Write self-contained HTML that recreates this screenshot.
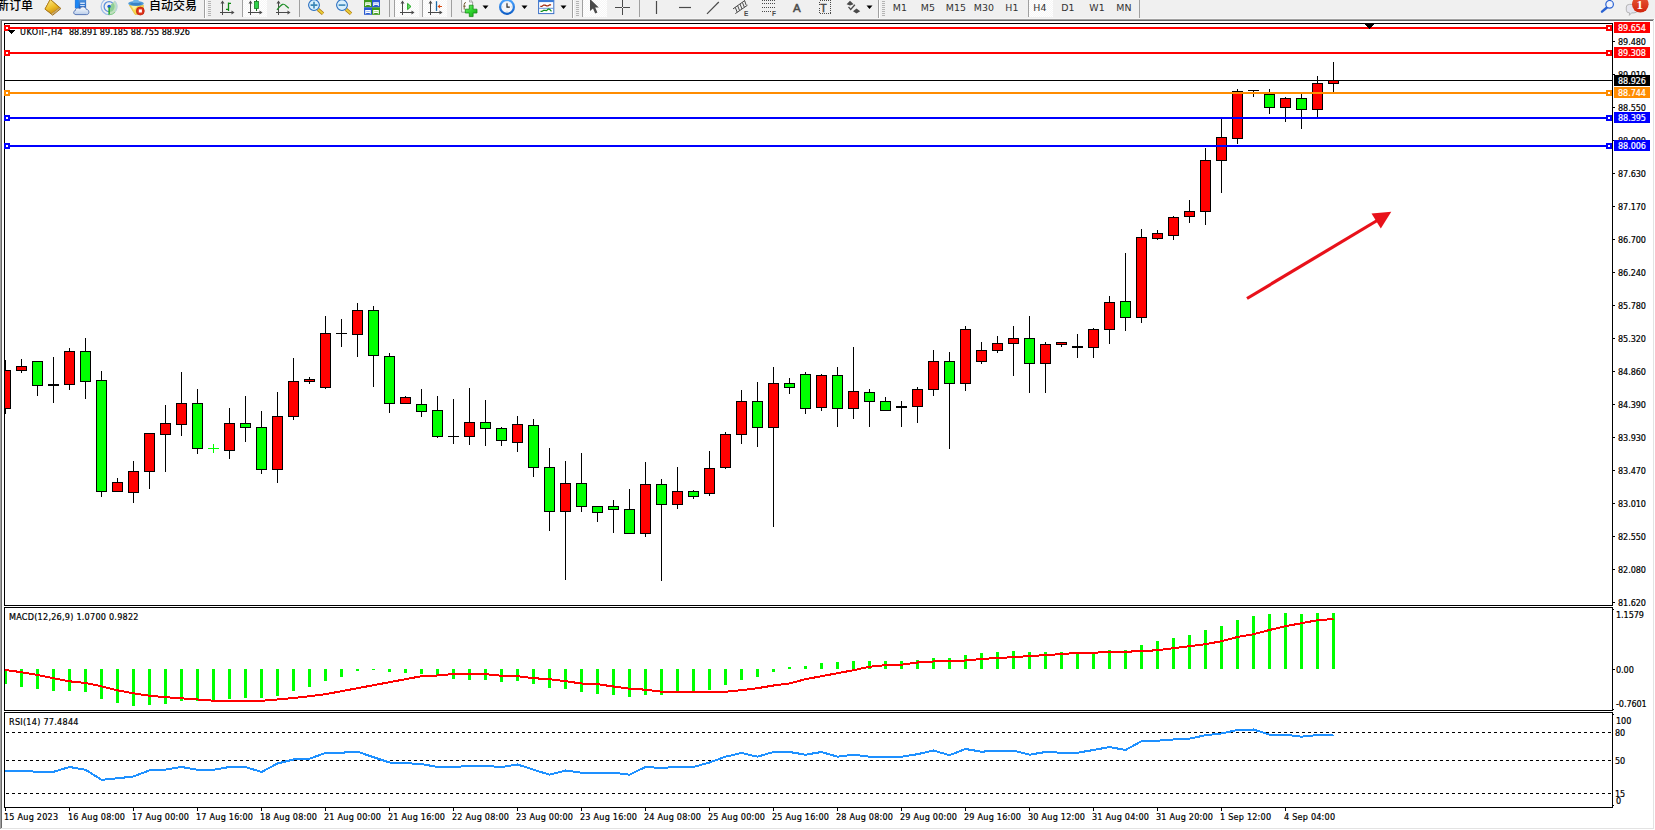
<!DOCTYPE html>
<html lang="zh"><head><meta charset="utf-8"><title>UKOil-,H4</title>
<style>
html,body{margin:0;padding:0;background:#fff}
body{width:1655px;height:830px;position:relative;overflow:hidden;font-family:"Liberation Sans","Noto Sans CJK SC",sans-serif;color:#000}
#tb{position:absolute;left:0;top:0;width:1655px;height:19px;background:#f0f0f0;overflow:hidden}
#tb svg{position:absolute;left:0;top:0}
.cn{position:absolute;top:-2px;font-weight:500;font-size:12px;line-height:16px;white-space:nowrap;color:#000}
.tf{position:absolute;top:1px;width:28px;text-align:center;font-family:"DejaVu Sans Condensed","DejaVu Sans","Liberation Sans",sans-serif;font-stretch:condensed;font-size:9.5px;letter-spacing:0.1px;transform:scaleX(1.1);line-height:13px;color:#333;white-space:nowrap}
svg.l{position:absolute;left:0;top:0}
.t,.pl{font-family:"DejaVu Sans Condensed","DejaVu Sans","Liberation Sans",sans-serif;font-stretch:condensed}
.t{position:absolute;-webkit-text-stroke:0.2px #000;font-size:9px;line-height:11px;white-space:nowrap;letter-spacing:-0.08px}
.t.d{letter-spacing:0.22px}
.t.h{letter-spacing:0.16px}
.pl{position:absolute;-webkit-text-stroke:0.2px #fff;left:1614px;width:36px;height:11px;overflow:hidden;color:#fff;font-size:9px;line-height:13px;letter-spacing:-0.08px;text-indent:4px;white-space:nowrap}
</style></head><body>
<div id="tb">
<svg width="1655" height="19" viewBox="0 0 1655 19">
<defs>
<linearGradient id="gy" x1="0.2" y1="0" x2="0.7" y2="1"><stop offset="0" stop-color="#fbe88a"/><stop offset="0.55" stop-color="#eebf2a"/><stop offset="1" stop-color="#c98a12"/></linearGradient>
<linearGradient id="gb" x1="0" y1="0" x2="0" y2="1"><stop offset="0" stop-color="#5aa0e6"/><stop offset="1" stop-color="#1c5fbf"/></linearGradient>
<linearGradient id="gc" x1="0" y1="0" x2="0" y2="1"><stop offset="0" stop-color="#ffffff"/><stop offset="1" stop-color="#b9cdea"/></linearGradient>
<radialGradient id="gl" cx="0.4" cy="0.35" r="0.7"><stop offset="0" stop-color="#e8f4ff"/><stop offset="1" stop-color="#9cc8f0"/></radialGradient>
<pattern id="dp" width="2" height="2" patternUnits="userSpaceOnUse"><rect width="2" height="2" fill="#f6f6f6"/><rect width="1" height="1" fill="#fff"/><rect x="1" y="1" width="1" height="1" fill="#fff"/></pattern>
<linearGradient id="gr" x1="0" y1="0" x2="0" y2="1"><stop offset="0" stop-color="#ea5a38"/><stop offset="1" stop-color="#d0240c"/></linearGradient>
<linearGradient id="gp" x1="0" y1="0" x2="1" y2="1"><stop offset="0" stop-color="#7df07d"/><stop offset="0.5" stop-color="#2fd42f"/><stop offset="1" stop-color="#1aa81a"/></linearGradient>
<linearGradient id="gk" x1="0" y1="0" x2="0" y2="1"><stop offset="0" stop-color="#4aa4ff"/><stop offset="1" stop-color="#0f5fc8"/></linearGradient>
</defs>
<!-- pressed button backgrounds -->
<rect x="243" y="0" width="24" height="17" fill="url(#dp)"/>
<rect x="395" y="0" width="24" height="17" fill="url(#dp)"/>
<rect x="423" y="0" width="24" height="17" fill="url(#dp)"/>
<rect x="583" y="0" width="24" height="17" fill="url(#dp)"/>
<rect x="1029" y="0" width="24" height="17" fill="url(#dp)"/>
<!-- separators -->
<g fill="#a0a0a0" shape-rendering="crispEdges">
<rect x="204" y="0" width="1" height="19"/>
<rect x="242" y="0" width="1" height="17"/>
<rect x="299" y="0" width="1" height="17"/>
<rect x="389" y="0" width="1" height="17"/>
<rect x="394" y="0" width="1" height="17"/>
<rect x="422" y="0" width="1" height="17"/>
<rect x="451" y="0" width="1" height="17"/>
<rect x="572" y="0" width="1" height="19"/>
<rect x="582" y="0" width="1" height="17"/>
<rect x="639" y="0" width="1" height="17"/>
<rect x="878" y="0" width="1" height="19"/>
<rect x="1028" y="0" width="1" height="17"/>
<rect x="1139" y="0" width="1" height="19"/>
</g>
<g fill="#fff" shape-rendering="crispEdges">
<rect x="205" y="0" width="1" height="19"/>
<rect x="573" y="0" width="1" height="19"/>
<rect x="879" y="0" width="1" height="19"/>
</g>
<!-- grippers -->
<g fill="#b4b4b4" shape-rendering="crispEdges">
<path d="M208 1h3v1h-3zM208 3h3v1h-3zM208 5h3v1h-3zM208 7h3v1h-3zM208 9h3v1h-3zM208 11h3v1h-3zM208 13h3v1h-3zM208 15h3v1h-3z"/>
<path d="M576 1h3v1h-3zM576 3h3v1h-3zM576 5h3v1h-3zM576 7h3v1h-3zM576 9h3v1h-3zM576 11h3v1h-3zM576 13h3v1h-3zM576 15h3v1h-3z"/>
<path d="M882 1h3v1h-3zM882 3h3v1h-3zM882 5h3v1h-3zM882 7h3v1h-3zM882 9h3v1h-3zM882 11h3v1h-3zM882 13h3v1h-3zM882 15h3v1h-3z"/>
</g>
<!-- yellow tag/book icon -->
<g>
<path d="M50.3 -0.6 L60.9 8.5 L52.7 15.2 L45 9.1 Z" fill="#e9dcc0" stroke="#9a6508" stroke-width="0.9" stroke-linejoin="round"/>
<path d="M50.3 -0.6 L59.4 7.6 L51.6 13.6 L45 9.1 Z" fill="url(#gy)" stroke="#a8720c" stroke-width="0.7" stroke-linejoin="round"/>
<path d="M52.2 14.4 L60.1 8.1" stroke="#9a6508" stroke-width="0.5"/>
</g>
<!-- server + cloud icon -->
<g>
<rect x="75.2" y="-2" width="10.6" height="10" fill="url(#gb)" stroke="#1560c8" stroke-width="0.6"/>
<rect x="75.5" y="-2" width="3.2" height="10" fill="#1a86f5"/>
<rect x="80.2" y="2.6" width="4.6" height="1.3" fill="#e8f2ff"/><rect x="80.2" y="5" width="4.6" height="1.1" fill="#cfe2fb"/>
<path d="M76 14.6 C73.2 14.6 72.8 11 75.4 10.5 C75.2 8.2 78.4 7.3 79.8 8.9 C80.8 6 85.6 6.1 86.1 9.3 C89.2 9 90.2 14.6 86.6 14.6 Z" fill="url(#gc)" stroke="#4c6db0" stroke-width="0.9"/>
</g>
<!-- signal icon -->
<g fill="none">
<path d="M109.1 6.6 L109.1 14.9 A8.3 8.3 0 0 0 114.8 0.6 Z" fill="#bfe0bf"/>
<path d="M109.1 6.6 L109.1 12 A5.4 5.4 0 0 0 113 2.8 Z" fill="#8fcf95"/>
<path d="M109.1 14.6 A8 8 0 0 1 109.1 -1.4" stroke="#9dbdea" stroke-width="1.2"/>
<path d="M109.1 11.6 A5 5 0 0 1 109.1 1.6 A5 5 0 0 1 112.6 3" stroke="#5f90dd" stroke-width="1.3"/>
<path d="M114.6 0.9 A8 8 0 0 1 115.5 11.5" stroke="#b7cfe8" stroke-width="1"/>
<circle cx="109.1" cy="6.4" r="1.7" fill="#1f5fd0"/>
<rect x="108.4" y="7.2" width="1.5" height="7.6" fill="#27a82f"/>
<path d="M109.1 14.8 A8.2 8.2 0 0 0 115 12.2" stroke="#7cc883" stroke-width="0.9"/>
</g>
<!-- expert advisor icon -->
<g>
<path d="M129.3 5.2 L143.4 5.2 L143.4 8 L137.6 14.4 L135 14.4 Z" fill="#f6d94e" stroke="#d8a81e" stroke-width="0.5"/>
<path d="M131 5.6 L138 5.6 L134 10 Z" fill="#fbeea0"/>
<ellipse cx="136" cy="3.4" rx="7.8" ry="2.5" fill="#4f9ad8"/>
<path d="M132.6 3.6 Q133.6 -0.5 134 -3 L138 -3 Q138.2 -0.5 139.6 3.6 Z" fill="#6db3e8"/>
<ellipse cx="136" cy="4.1" rx="5.6" ry="1.3" fill="#3a82c4"/>
<circle cx="140.3" cy="11" r="4" fill="#e0341c" stroke="#b81f0c" stroke-width="0.7"/>
<rect x="138.8" y="9.4" width="3.1" height="3.1" fill="#fff"/>
</g>
<!-- bar chart icon -->
<g stroke="#4a4a4a" stroke-width="1" fill="none" shape-rendering="crispEdges">
<path d="M222.5 2 V15 M220 12.5 H233"/>
<path d="M250.5 2 V15 M248 12.5 H261"/>
<path d="M278.5 2 V15 M276 12.5 H289"/>
<path d="M402.5 2 V15 M400 12.5 H413"/>
<path d="M430.5 2 V15 M428 12.5 H441"/>
</g>
<g fill="#4a4a4a">
<path d="M222.5 0.5 l-2 3 h4z M234.5 12.5 l-3 -2 v4z"/>
<path d="M250.5 0.5 l-2 3 h4z M262.5 12.5 l-3 -2 v4z"/>
<path d="M278.5 0.5 l-2 3 h4z M290.5 12.5 l-3 -2 v4z"/>
<path d="M402.5 0.5 l-2 3 h4z M414.5 12.5 l-3 -2 v4z"/>
<path d="M430.5 0.5 l-2 3 h4z M442.5 12.5 l-3 -2 v4z"/>
</g>
<path d="M228.5 2.4 V10.9 M228.5 3.3 h2.5 M228.5 9.4 h-2.5" stroke="#0f8a14" stroke-width="1.3" fill="none"/>
<!-- candle icon -->
<path d="M256.5 0 V11" stroke="#1a6a1a" stroke-width="1"/>
<rect x="254.5" y="1.5" width="4" height="7" fill="#2fd24a" stroke="#1a7a24" stroke-width="0.8"/>
<!-- line chart icon -->
<path d="M277 9.8 Q280.5 5.5 282.5 4.4 Q284.5 3.8 286 5.8 L288.8 8.3" stroke="#1f8f2a" stroke-width="1.2" fill="none"/>
<!-- zoom in -->
<g>
<path d="M318 9.4 L323 13.7" stroke="#b07810" stroke-width="3.4" stroke-linecap="butt"/>
<path d="M318 9.4 L322.8 13.5" stroke="#ecd23a" stroke-width="1.9" stroke-linecap="butt"/>
<circle cx="314" cy="5.1" r="5.4" fill="#d9f0fd" stroke="#2a6fc0" stroke-width="1.1"/>
<path d="M310.6 5.1 H317.4 M314 1.7 V8.5" stroke="#3a86b6" stroke-width="1.6"/>
</g>
<!-- zoom out -->
<g>
<path d="M346 9.4 L351 13.7" stroke="#b07810" stroke-width="3.4" stroke-linecap="butt"/>
<path d="M346 9.4 L350.8 13.5" stroke="#ecd23a" stroke-width="1.9" stroke-linecap="butt"/>
<circle cx="342" cy="5.1" r="5.4" fill="#d9f0fd" stroke="#2a6fc0" stroke-width="1.1"/>
<path d="M338.6 5.1 H345.4" stroke="#3a86b6" stroke-width="1.6"/>
</g>
<!-- tile windows icon -->
<g>
<rect x="364" y="-1" width="8" height="8.3" fill="#3d9a1c"/><rect x="372" y="-1" width="8" height="8.3" fill="#2a5ad2"/>
<rect x="364" y="7.3" width="8" height="7.5" fill="#2a5ad2"/><rect x="372" y="7.3" width="8" height="7.5" fill="#3d9a1c"/>
<path d="M365.2 2.2 h5.6 v3.8 h-1 v-0.9 h-3.6 v0.9 h-1 z" fill="#fff"/><path d="M373.2 2.2 h5.6 v3.8 h-1 v-0.9 h-3.6 v0.9 h-1 z" fill="#fff"/>
<path d="M365.2 10 h5.6 v3.8 h-1 v-0.9 h-3.6 v0.9 h-1 z" fill="#fff"/><path d="M373.2 10 h5.6 v3.8 h-1 v-0.9 h-3.6 v0.9 h-1 z" fill="#fff"/>
<rect x="366.2" y="3.3" width="3.6" height="0.9" fill="#a8dc90"/><rect x="374.2" y="3.3" width="3.6" height="0.9" fill="#9db8f0"/>
<rect x="366.2" y="11.1" width="3.6" height="0.9" fill="#9db8f0"/><rect x="374.2" y="11.1" width="3.6" height="0.9" fill="#a8dc90"/>
</g>
<!-- autoscroll: green triangle -->
<path d="M407.6 3.4 L411 6.5 L407.6 9.6 Z" fill="#6ade6a" stroke="#12a012" stroke-width="0.9" stroke-linejoin="round"/>
<!-- chart shift: blue line + red arrow -->
<path d="M436.5 1.2 V10.9" stroke="#1a6aa8" stroke-width="1.3"/>
<path d="M437.5 6.4 L440.2 4.2 L439.8 5.9 H442 V6.9 H439.8 L440.2 8.6 Z" fill="#d84a10"/>
<!-- indicators icon -->
<g>
<path d="M461.6 -1 H469.5 L472.6 2 V12.2 H461.6 Z" fill="#fbfbfb" stroke="#8c8c8c" stroke-width="0.8"/>
<path d="M469.5 -1 V2 H472.6" fill="none" stroke="#8c8c8c" stroke-width="0.7"/>
<path d="M466 2.5 q-1.8 0 -1.8 2 v5 M463.3 6.2 h2.4" stroke="#6a5428" stroke-width="0.9" fill="none"/>
<path d="M469.3 5.2 h3.8 v4 h3.9 v3.8 h-3.9 v3.6 h-3.8 v-3.6 h-4 v-3.8 h4 z" fill="url(#gp)" stroke="#148a14" stroke-width="0.8" stroke-linejoin="round"/>
</g>
<g fill="#000">
<path d="M482.5 5.5 h6 l-3 3.5z"/>
<path d="M521.5 5.5 h6 l-3 3.5z"/>
<path d="M560.5 5.5 h6 l-3 3.5z"/>
<path d="M866.5 5.5 h6 l-3 3.5z"/>
</g>
<!-- clock -->
<g>
<circle cx="507" cy="6.9" r="6.9" fill="#f3f5f9" stroke="url(#gk)" stroke-width="2.2"/>
<path d="M507 3.3 V7.1 H509.8" stroke="#2a2a2a" stroke-width="1.2" fill="none"/>
<path d="M507 1.6 v0.8 M507 11.4 v0.8 M501.7 6.9 h0.8 M511.5 6.9 h0.8" stroke="#9aa" stroke-width="0.7"/>
</g>
<!-- template icon -->
<g fill="none">
<rect x="538.6" y="-1" width="15.2" height="14.6" fill="#fff" stroke="#3a70c8" stroke-width="1"/>
<rect x="538.6" y="-1" width="15.2" height="3.1" fill="#3a7ad8"/>
<path d="M540.3 6.4 h1.6 l1.6 -1.3 h1.6 l1.5 0.8 h1.4 l1.5 -1 h1.6" stroke="#a02810" stroke-width="1.2"/>
<path d="M539 8.3 H553.4" stroke="#5a8ad8" stroke-width="0.9"/>
<path d="M540.5 11.4 h1.4 l1.6 -1 h1.4 l1.6 0.3 l1.8 -1.7 l1.4 0.4 l1.8 2" stroke="#109020" stroke-width="1.2"/>
</g>
<!-- cursor arrow -->
<path d="M590 -1 L590 11 L593 8.4 L595.2 13.4 L597.4 12.4 L595.2 7.6 L598.8 7.4 Z" fill="#4a4a4a"/>
<!-- crosshair -->
<path d="M622.5 0 V15 M615 7.5 H630" stroke="#4a4a4a" stroke-width="1" shape-rendering="crispEdges"/>
<rect x="622" y="7" width="1" height="1" fill="#f0f0f0"/>
<!-- vertical line, horizontal line, trendline -->
<path d="M656.5 1 V14" stroke="#4a4a4a" stroke-width="1.2"/>
<path d="M679 7.5 H691" stroke="#4a4a4a" stroke-width="1.2"/>
<path d="M707 13.8 L718.8 2" stroke="#4a4a4a" stroke-width="1.2"/>
<!-- channel icon -->
<g stroke="#4a4a4a" stroke-width="1" fill="none">
<path d="M733 8.9 L745 0.4 M735.3 13.6 L747.5 5.2"/>
<path d="M735.2 7.2 l2 5 M737.6 5.6 l2 5 M740 4 l2 5 M742.4 2.4 l2 5 M744.6 0.6 l1.6 4.6" />
</g>
<!-- fibo icon -->
<g stroke="#4a4a4a" stroke-width="1" stroke-dasharray="1 1" shape-rendering="crispEdges">
<path d="M762 0.5 H775 M762 3.5 H775 M762 7.5 H775 M762 11.5 H771"/>
</g>
<!-- text label icon dotted box -->
<rect x="819.5" y="0.5" width="11" height="13" fill="none" stroke="#4a4a4a" stroke-width="1" stroke-dasharray="1 1" shape-rendering="crispEdges"/>
<!-- arrows icon -->
<g fill="#4a4a4a">
<path d="M850 0.8 L853.6 4.2 L850 5.6 L846.6 4.2 Z"/>
<path d="M856.5 8.4 L860.2 11.2 L856.5 13.6 L853 11.2 Z"/>
<path d="M848.5 6.8 l2.2 2.6 l4.2 -4.6" stroke="#4a4a4a" stroke-width="1.3" fill="none"/>
</g>
<!-- search icon -->
<g>
<path d="M1602 11.7 L1606.9 7.5" stroke="#2a62d2" stroke-width="2.4" stroke-linecap="round"/>
<circle cx="1609.6" cy="4.3" r="3.8" fill="#f1f3fc" stroke="#2a62d2" stroke-width="1.2"/>
</g>
<!-- chat bubble + badge -->
<g>
<path d="M1626.3 7 Q1626.3 4.4 1629.5 4.4 H1634 Q1637.2 4.4 1637.2 7 V10.2 Q1637.2 12.9 1634 12.9 H1631.5 L1629.3 15.4 L1629.6 12.9 Q1626.3 12.9 1626.3 10.2 Z" fill="#e6e6ee" stroke="#a8a8a8" stroke-width="0.8"/>
<circle cx="1640.3" cy="4.3" r="8.3" fill="url(#gr)"/>
</g>
<g font-family="'Liberation Sans',sans-serif" font-weight="bold" fill="#4a4a4a">
<text x="744" y="15.5" font-size="6.5">E</text>
<text x="772" y="15.5" font-size="6.5">F</text>
<text x="793" y="12" font-size="11.5" font-weight="normal" stroke="#4a4a4a" stroke-width="0.5">A</text>
<text x="820.3" y="11.5" font-size="10.5" font-weight="normal" stroke="#4a4a4a" stroke-width="0.5">T</text>
<text x="1636.4" y="9" font-size="13" fill="#fff" font-family="'Liberation Serif',serif" font-weight="bold">1</text>
</g>
</svg>
<div class="cn" style="left:-3px">新订单</div>
<div class="cn" style="left:149px">自动交易</div>
<div class="tf" style="left:886px">M1</div>
<div class="tf" style="left:914px">M5</div>
<div class="tf" style="left:942px">M15</div>
<div class="tf" style="left:970px">M30</div>
<div class="tf" style="left:998px">H1</div>
<div class="tf" style="left:1026px">H4</div>
<div class="tf" style="left:1054px">D1</div>
<div class="tf" style="left:1083px">W1</div>
<div class="tf" style="left:1110px">MN</div>

</div>
<svg class="l" width="1655" height="830" viewBox="0 0 1655 830" shape-rendering="crispEdges">
<rect x="0" y="18" width="1655" height="1" fill="#f6f6f6"/><rect x="0" y="19" width="1654" height="1" fill="#a0a0a0"/><rect x="0" y="20" width="1653" height="1" fill="#696969"/><rect x="0" y="19" width="1" height="810" fill="#a0a0a0"/><rect x="1" y="20" width="1" height="808" fill="#696969"/><rect x="1653" y="20" width="1" height="809" fill="#e3e3e3"/><rect x="1" y="828" width="1653" height="1" fill="#e3e3e3"/><rect x="4" y="23" width="1609" height="1" fill="#000"/><rect x="4" y="605" width="1609" height="1" fill="#000"/><rect x="4" y="23" width="1" height="583" fill="#000"/><rect x="1612" y="23" width="1" height="583" fill="#000"/><rect x="4" y="607" width="1609" height="1" fill="#000"/><rect x="4" y="710" width="1609" height="1" fill="#000"/><rect x="4" y="607" width="1" height="104" fill="#000"/><rect x="1612" y="607" width="1" height="104" fill="#000"/><rect x="4" y="712" width="1609" height="1" fill="#000"/><rect x="4" y="807" width="1609" height="1" fill="#000"/><rect x="4" y="712" width="1" height="96" fill="#000"/><rect x="1612" y="712" width="1" height="96" fill="#000"/><rect x="1613" y="41" width="2" height="1" fill="#000"/><rect x="1613" y="74" width="2" height="1" fill="#000"/><rect x="1613" y="107" width="2" height="1" fill="#000"/><rect x="1613" y="140" width="2" height="1" fill="#000"/><rect x="1613" y="173" width="2" height="1" fill="#000"/><rect x="1613" y="206" width="2" height="1" fill="#000"/><rect x="1613" y="239" width="2" height="1" fill="#000"/><rect x="1613" y="272" width="2" height="1" fill="#000"/><rect x="1613" y="305" width="2" height="1" fill="#000"/><rect x="1613" y="338" width="2" height="1" fill="#000"/><rect x="1613" y="371" width="2" height="1" fill="#000"/><rect x="1613" y="404" width="2" height="1" fill="#000"/><rect x="1613" y="437" width="2" height="1" fill="#000"/><rect x="1613" y="470" width="2" height="1" fill="#000"/><rect x="1613" y="503" width="2" height="1" fill="#000"/><rect x="1613" y="536" width="2" height="1" fill="#000"/><rect x="1613" y="569" width="2" height="1" fill="#000"/><rect x="1613" y="602" width="2" height="1" fill="#000"/><rect x="1613" y="609" width="1" height="1" fill="#000"/><rect x="1613" y="669" width="2" height="1" fill="#000"/><rect x="1613" y="709" width="1" height="1" fill="#000"/><rect x="1613" y="714" width="1" height="1" fill="#000"/><rect x="1613" y="805" width="1" height="1" fill="#000"/><rect x="5" y="808" width="1" height="3" fill="#000"/><rect x="69" y="808" width="1" height="3" fill="#000"/><rect x="133" y="808" width="1" height="3" fill="#000"/><rect x="197" y="808" width="1" height="3" fill="#000"/><rect x="261" y="808" width="1" height="3" fill="#000"/><rect x="325" y="808" width="1" height="3" fill="#000"/><rect x="389" y="808" width="1" height="3" fill="#000"/><rect x="453" y="808" width="1" height="3" fill="#000"/><rect x="517" y="808" width="1" height="3" fill="#000"/><rect x="581" y="808" width="1" height="3" fill="#000"/><rect x="645" y="808" width="1" height="3" fill="#000"/><rect x="709" y="808" width="1" height="3" fill="#000"/><rect x="773" y="808" width="1" height="3" fill="#000"/><rect x="837" y="808" width="1" height="3" fill="#000"/><rect x="901" y="808" width="1" height="3" fill="#000"/><rect x="965" y="808" width="1" height="3" fill="#000"/><rect x="1029" y="808" width="1" height="3" fill="#000"/><rect x="1093" y="808" width="1" height="3" fill="#000"/><rect x="1157" y="808" width="1" height="3" fill="#000"/><rect x="1221" y="808" width="1" height="3" fill="#000"/><rect x="1285" y="808" width="1" height="3" fill="#000"/><rect x="5" y="669" width="2" height="15" fill="#00FF00"/><rect x="20" y="669" width="3" height="18" fill="#00FF00"/><rect x="36" y="669" width="3" height="20" fill="#00FF00"/><rect x="52" y="669" width="3" height="22" fill="#00FF00"/><rect x="68" y="669" width="3" height="22" fill="#00FF00"/><rect x="84" y="669" width="3" height="23" fill="#00FF00"/><rect x="100" y="669" width="3" height="30" fill="#00FF00"/><rect x="116" y="669" width="3" height="34" fill="#00FF00"/><rect x="132" y="669" width="3" height="37" fill="#00FF00"/><rect x="148" y="669" width="3" height="36" fill="#00FF00"/><rect x="164" y="669" width="3" height="35" fill="#00FF00"/><rect x="180" y="669" width="3" height="32" fill="#00FF00"/><rect x="196" y="669" width="3" height="32" fill="#00FF00"/><rect x="212" y="669" width="3" height="33" fill="#00FF00"/><rect x="228" y="669" width="3" height="30" fill="#00FF00"/><rect x="244" y="669" width="3" height="29" fill="#00FF00"/><rect x="260" y="669" width="3" height="29" fill="#00FF00"/><rect x="276" y="669" width="3" height="27" fill="#00FF00"/><rect x="292" y="669" width="3" height="22" fill="#00FF00"/><rect x="308" y="669" width="3" height="18" fill="#00FF00"/><rect x="324" y="669" width="3" height="12" fill="#00FF00"/><rect x="340" y="669" width="3" height="8" fill="#00FF00"/><rect x="356" y="669" width="3" height="2" fill="#00FF00"/><rect x="372" y="669" width="3" height="1" fill="#00FF00"/><rect x="388" y="669" width="3" height="3" fill="#00FF00"/><rect x="404" y="669" width="3" height="4" fill="#00FF00"/><rect x="420" y="669" width="3" height="5" fill="#00FF00"/><rect x="436" y="669" width="3" height="7" fill="#00FF00"/><rect x="452" y="669" width="3" height="10" fill="#00FF00"/><rect x="468" y="669" width="3" height="11" fill="#00FF00"/><rect x="484" y="669" width="3" height="11" fill="#00FF00"/><rect x="500" y="669" width="3" height="13" fill="#00FF00"/><rect x="516" y="669" width="3" height="12" fill="#00FF00"/><rect x="532" y="669" width="3" height="15" fill="#00FF00"/><rect x="548" y="669" width="3" height="19" fill="#00FF00"/><rect x="564" y="669" width="3" height="20" fill="#00FF00"/><rect x="580" y="669" width="3" height="23" fill="#00FF00"/><rect x="596" y="669" width="3" height="25" fill="#00FF00"/><rect x="612" y="669" width="3" height="26" fill="#00FF00"/><rect x="628" y="669" width="3" height="28" fill="#00FF00"/><rect x="644" y="669" width="3" height="26" fill="#00FF00"/><rect x="660" y="669" width="3" height="26" fill="#00FF00"/><rect x="676" y="669" width="3" height="23" fill="#00FF00"/><rect x="692" y="669" width="3" height="23" fill="#00FF00"/><rect x="708" y="669" width="3" height="21" fill="#00FF00"/><rect x="724" y="669" width="3" height="16" fill="#00FF00"/><rect x="740" y="669" width="3" height="11" fill="#00FF00"/><rect x="756" y="669" width="3" height="8" fill="#00FF00"/><rect x="772" y="669" width="3" height="3" fill="#00FF00"/><rect x="788" y="667" width="3" height="2" fill="#00FF00"/><rect x="804" y="666" width="3" height="3" fill="#00FF00"/><rect x="820" y="663" width="3" height="6" fill="#00FF00"/><rect x="836" y="662" width="3" height="7" fill="#00FF00"/><rect x="852" y="661" width="3" height="8" fill="#00FF00"/><rect x="868" y="661" width="3" height="8" fill="#00FF00"/><rect x="884" y="661" width="3" height="8" fill="#00FF00"/><rect x="900" y="661" width="3" height="8" fill="#00FF00"/><rect x="916" y="660" width="3" height="9" fill="#00FF00"/><rect x="932" y="658" width="3" height="11" fill="#00FF00"/><rect x="948" y="658" width="3" height="11" fill="#00FF00"/><rect x="964" y="655" width="3" height="14" fill="#00FF00"/><rect x="980" y="653" width="3" height="16" fill="#00FF00"/><rect x="996" y="652" width="3" height="17" fill="#00FF00"/><rect x="1012" y="651" width="3" height="18" fill="#00FF00"/><rect x="1028" y="652" width="3" height="17" fill="#00FF00"/><rect x="1044" y="652" width="3" height="17" fill="#00FF00"/><rect x="1060" y="652" width="3" height="17" fill="#00FF00"/><rect x="1076" y="652" width="3" height="17" fill="#00FF00"/><rect x="1092" y="654" width="3" height="15" fill="#00FF00"/><rect x="1108" y="650" width="3" height="19" fill="#00FF00"/><rect x="1124" y="650" width="3" height="19" fill="#00FF00"/><rect x="1140" y="645" width="3" height="24" fill="#00FF00"/><rect x="1156" y="641" width="3" height="28" fill="#00FF00"/><rect x="1172" y="638" width="3" height="31" fill="#00FF00"/><rect x="1188" y="635" width="3" height="34" fill="#00FF00"/><rect x="1204" y="630" width="3" height="39" fill="#00FF00"/><rect x="1220" y="626" width="3" height="43" fill="#00FF00"/><rect x="1236" y="620" width="3" height="49" fill="#00FF00"/><rect x="1252" y="616" width="3" height="53" fill="#00FF00"/><rect x="1268" y="614" width="3" height="55" fill="#00FF00"/><rect x="1284" y="613" width="3" height="56" fill="#00FF00"/><rect x="1300" y="614" width="3" height="55" fill="#00FF00"/><rect x="1316" y="613" width="3" height="56" fill="#00FF00"/><rect x="1332" y="613" width="3" height="56" fill="#00FF00"/>
<clipPath id="cc"><rect x="5" y="24" width="1607" height="581"/></clipPath><g clip-path="url(#cc)"><rect x="5" y="360" width="1" height="54" fill="#000"/><rect x="0" y="370" width="11" height="39" fill="#000"/><rect x="1" y="371" width="9" height="37" fill="#FF0000"/><rect x="21" y="359" width="1" height="14" fill="#000"/><rect x="16" y="366" width="11" height="5" fill="#000"/><rect x="17" y="367" width="9" height="3" fill="#FF0000"/><rect x="37" y="361" width="1" height="35" fill="#000"/><rect x="32" y="361" width="11" height="25" fill="#000"/><rect x="33" y="362" width="9" height="23" fill="#00FF00"/><rect x="53" y="357" width="1" height="46" fill="#000"/><rect x="48" y="384" width="11" height="2" fill="#000"/><rect x="69" y="348" width="1" height="42" fill="#000"/><rect x="64" y="351" width="11" height="34" fill="#000"/><rect x="65" y="352" width="9" height="32" fill="#FF0000"/><rect x="85" y="338" width="1" height="61" fill="#000"/><rect x="80" y="351" width="11" height="31" fill="#000"/><rect x="81" y="352" width="9" height="29" fill="#00FF00"/><rect x="101" y="371" width="1" height="126" fill="#000"/><rect x="96" y="380" width="11" height="112" fill="#000"/><rect x="97" y="381" width="9" height="110" fill="#00FF00"/><rect x="117" y="478" width="1" height="14" fill="#000"/><rect x="112" y="482" width="11" height="10" fill="#000"/><rect x="113" y="483" width="9" height="8" fill="#FF0000"/><rect x="133" y="461" width="1" height="42" fill="#000"/><rect x="128" y="471" width="11" height="22" fill="#000"/><rect x="129" y="472" width="9" height="20" fill="#FF0000"/><rect x="149" y="433" width="1" height="56" fill="#000"/><rect x="144" y="433" width="11" height="39" fill="#000"/><rect x="145" y="434" width="9" height="37" fill="#FF0000"/><rect x="165" y="405" width="1" height="67" fill="#000"/><rect x="160" y="423" width="11" height="12" fill="#000"/><rect x="161" y="424" width="9" height="10" fill="#FF0000"/><rect x="181" y="372" width="1" height="64" fill="#000"/><rect x="176" y="403" width="11" height="22" fill="#000"/><rect x="177" y="404" width="9" height="20" fill="#FF0000"/><rect x="197" y="389" width="1" height="65" fill="#000"/><rect x="192" y="403" width="11" height="46" fill="#000"/><rect x="193" y="404" width="9" height="44" fill="#00FF00"/><rect x="213" y="444" width="1" height="9" fill="#00FF00"/><rect x="208" y="448" width="11" height="1" fill="#00FF00"/><rect x="229" y="408" width="1" height="51" fill="#000"/><rect x="224" y="423" width="11" height="28" fill="#000"/><rect x="225" y="424" width="9" height="26" fill="#FF0000"/><rect x="245" y="396" width="1" height="46" fill="#000"/><rect x="240" y="423" width="11" height="5" fill="#000"/><rect x="241" y="424" width="9" height="3" fill="#00FF00"/><rect x="261" y="411" width="1" height="63" fill="#000"/><rect x="256" y="427" width="11" height="43" fill="#000"/><rect x="257" y="428" width="9" height="41" fill="#00FF00"/><rect x="277" y="392" width="1" height="91" fill="#000"/><rect x="272" y="416" width="11" height="54" fill="#000"/><rect x="273" y="417" width="9" height="52" fill="#FF0000"/><rect x="293" y="358" width="1" height="62" fill="#000"/><rect x="288" y="381" width="11" height="36" fill="#000"/><rect x="289" y="382" width="9" height="34" fill="#FF0000"/><rect x="309" y="377" width="1" height="7" fill="#000"/><rect x="304" y="379" width="11" height="3" fill="#000"/><rect x="305" y="380" width="9" height="1" fill="#FF0000"/><rect x="325" y="316" width="1" height="73" fill="#000"/><rect x="320" y="333" width="11" height="55" fill="#000"/><rect x="321" y="334" width="9" height="53" fill="#FF0000"/><rect x="341" y="319" width="1" height="28" fill="#000"/><rect x="336" y="333" width="11" height="1" fill="#000"/><rect x="357" y="303" width="1" height="54" fill="#000"/><rect x="352" y="310" width="11" height="25" fill="#000"/><rect x="353" y="311" width="9" height="23" fill="#FF0000"/><rect x="373" y="306" width="1" height="81" fill="#000"/><rect x="368" y="310" width="11" height="46" fill="#000"/><rect x="369" y="311" width="9" height="44" fill="#00FF00"/><rect x="389" y="353" width="1" height="60" fill="#000"/><rect x="384" y="356" width="11" height="48" fill="#000"/><rect x="385" y="357" width="9" height="46" fill="#00FF00"/><rect x="405" y="396" width="1" height="8" fill="#000"/><rect x="400" y="397" width="11" height="7" fill="#000"/><rect x="401" y="398" width="9" height="5" fill="#FF0000"/><rect x="421" y="389" width="1" height="28" fill="#000"/><rect x="416" y="404" width="11" height="8" fill="#000"/><rect x="417" y="405" width="9" height="6" fill="#00FF00"/><rect x="437" y="396" width="1" height="42" fill="#000"/><rect x="432" y="410" width="11" height="27" fill="#000"/><rect x="433" y="411" width="9" height="25" fill="#00FF00"/><rect x="453" y="399" width="1" height="45" fill="#000"/><rect x="448" y="436" width="11" height="1" fill="#000"/><rect x="469" y="388" width="1" height="57" fill="#000"/><rect x="464" y="422" width="11" height="15" fill="#000"/><rect x="465" y="423" width="9" height="13" fill="#FF0000"/><rect x="485" y="400" width="1" height="46" fill="#000"/><rect x="480" y="422" width="11" height="7" fill="#000"/><rect x="481" y="423" width="9" height="5" fill="#00FF00"/><rect x="501" y="427" width="1" height="19" fill="#000"/><rect x="496" y="428" width="11" height="13" fill="#000"/><rect x="497" y="429" width="9" height="11" fill="#00FF00"/><rect x="517" y="416" width="1" height="36" fill="#000"/><rect x="512" y="424" width="11" height="19" fill="#000"/><rect x="513" y="425" width="9" height="17" fill="#FF0000"/><rect x="533" y="419" width="1" height="58" fill="#000"/><rect x="528" y="425" width="11" height="43" fill="#000"/><rect x="529" y="426" width="9" height="41" fill="#00FF00"/><rect x="549" y="448" width="1" height="83" fill="#000"/><rect x="544" y="467" width="11" height="45" fill="#000"/><rect x="545" y="468" width="9" height="43" fill="#00FF00"/><rect x="565" y="461" width="1" height="119" fill="#000"/><rect x="560" y="483" width="11" height="29" fill="#000"/><rect x="561" y="484" width="9" height="27" fill="#FF0000"/><rect x="581" y="453" width="1" height="59" fill="#000"/><rect x="576" y="483" width="11" height="24" fill="#000"/><rect x="577" y="484" width="9" height="22" fill="#00FF00"/><rect x="597" y="506" width="1" height="16" fill="#000"/><rect x="592" y="506" width="11" height="7" fill="#000"/><rect x="593" y="507" width="9" height="5" fill="#00FF00"/><rect x="613" y="500" width="1" height="33" fill="#000"/><rect x="608" y="506" width="11" height="4" fill="#000"/><rect x="609" y="507" width="9" height="2" fill="#00FF00"/><rect x="629" y="489" width="1" height="45" fill="#000"/><rect x="624" y="509" width="11" height="25" fill="#000"/><rect x="625" y="510" width="9" height="23" fill="#00FF00"/><rect x="645" y="462" width="1" height="75" fill="#000"/><rect x="640" y="484" width="11" height="50" fill="#000"/><rect x="641" y="485" width="9" height="48" fill="#FF0000"/><rect x="661" y="479" width="1" height="102" fill="#000"/><rect x="656" y="484" width="11" height="21" fill="#000"/><rect x="657" y="485" width="9" height="19" fill="#00FF00"/><rect x="677" y="467" width="1" height="42" fill="#000"/><rect x="672" y="491" width="11" height="14" fill="#000"/><rect x="673" y="492" width="9" height="12" fill="#FF0000"/><rect x="693" y="490" width="1" height="9" fill="#000"/><rect x="688" y="491" width="11" height="6" fill="#000"/><rect x="689" y="492" width="9" height="4" fill="#00FF00"/><rect x="709" y="451" width="1" height="45" fill="#000"/><rect x="704" y="468" width="11" height="26" fill="#000"/><rect x="705" y="469" width="9" height="24" fill="#FF0000"/><rect x="725" y="432" width="1" height="37" fill="#000"/><rect x="720" y="434" width="11" height="34" fill="#000"/><rect x="721" y="435" width="9" height="32" fill="#FF0000"/><rect x="741" y="390" width="1" height="54" fill="#000"/><rect x="736" y="401" width="11" height="34" fill="#000"/><rect x="737" y="402" width="9" height="32" fill="#FF0000"/><rect x="757" y="382" width="1" height="65" fill="#000"/><rect x="752" y="401" width="11" height="27" fill="#000"/><rect x="753" y="402" width="9" height="25" fill="#00FF00"/><rect x="773" y="367" width="1" height="160" fill="#000"/><rect x="768" y="383" width="11" height="45" fill="#000"/><rect x="769" y="384" width="9" height="43" fill="#FF0000"/><rect x="789" y="378" width="1" height="16" fill="#000"/><rect x="784" y="383" width="11" height="5" fill="#000"/><rect x="785" y="384" width="9" height="3" fill="#00FF00"/><rect x="805" y="372" width="1" height="42" fill="#000"/><rect x="800" y="374" width="11" height="35" fill="#000"/><rect x="801" y="375" width="9" height="33" fill="#00FF00"/><rect x="821" y="374" width="1" height="37" fill="#000"/><rect x="816" y="375" width="11" height="33" fill="#000"/><rect x="817" y="376" width="9" height="31" fill="#FF0000"/><rect x="837" y="367" width="1" height="60" fill="#000"/><rect x="832" y="375" width="11" height="34" fill="#000"/><rect x="833" y="376" width="9" height="32" fill="#00FF00"/><rect x="853" y="347" width="1" height="72" fill="#000"/><rect x="848" y="391" width="11" height="18" fill="#000"/><rect x="849" y="392" width="9" height="16" fill="#FF0000"/><rect x="869" y="389" width="1" height="38" fill="#000"/><rect x="864" y="392" width="11" height="10" fill="#000"/><rect x="865" y="393" width="9" height="8" fill="#00FF00"/><rect x="885" y="397" width="1" height="14" fill="#000"/><rect x="880" y="401" width="11" height="10" fill="#000"/><rect x="881" y="402" width="9" height="8" fill="#00FF00"/><rect x="901" y="401" width="1" height="26" fill="#000"/><rect x="896" y="406" width="11" height="2" fill="#000"/><rect x="917" y="387" width="1" height="36" fill="#000"/><rect x="912" y="389" width="11" height="18" fill="#000"/><rect x="913" y="390" width="9" height="16" fill="#FF0000"/><rect x="933" y="350" width="1" height="46" fill="#000"/><rect x="928" y="361" width="11" height="29" fill="#000"/><rect x="929" y="362" width="9" height="27" fill="#FF0000"/><rect x="949" y="352" width="1" height="97" fill="#000"/><rect x="944" y="361" width="11" height="23" fill="#000"/><rect x="945" y="362" width="9" height="21" fill="#00FF00"/><rect x="965" y="326" width="1" height="65" fill="#000"/><rect x="960" y="329" width="11" height="55" fill="#000"/><rect x="961" y="330" width="9" height="53" fill="#FF0000"/><rect x="981" y="342" width="1" height="22" fill="#000"/><rect x="976" y="350" width="11" height="12" fill="#000"/><rect x="977" y="351" width="9" height="10" fill="#FF0000"/><rect x="997" y="336" width="1" height="17" fill="#000"/><rect x="992" y="343" width="11" height="8" fill="#000"/><rect x="993" y="344" width="9" height="6" fill="#FF0000"/><rect x="1013" y="326" width="1" height="50" fill="#000"/><rect x="1008" y="338" width="11" height="6" fill="#000"/><rect x="1009" y="339" width="9" height="4" fill="#FF0000"/><rect x="1029" y="316" width="1" height="77" fill="#000"/><rect x="1024" y="338" width="11" height="26" fill="#000"/><rect x="1025" y="339" width="9" height="24" fill="#00FF00"/><rect x="1045" y="342" width="1" height="51" fill="#000"/><rect x="1040" y="344" width="11" height="20" fill="#000"/><rect x="1041" y="345" width="9" height="18" fill="#FF0000"/><rect x="1061" y="342" width="1" height="5" fill="#000"/><rect x="1056" y="342" width="11" height="3" fill="#000"/><rect x="1057" y="343" width="9" height="1" fill="#FF0000"/><rect x="1077" y="334" width="1" height="24" fill="#000"/><rect x="1072" y="346" width="11" height="2" fill="#000"/><rect x="1093" y="328" width="1" height="30" fill="#000"/><rect x="1088" y="329" width="11" height="19" fill="#000"/><rect x="1089" y="330" width="9" height="17" fill="#FF0000"/><rect x="1109" y="296" width="1" height="48" fill="#000"/><rect x="1104" y="302" width="11" height="28" fill="#000"/><rect x="1105" y="303" width="9" height="26" fill="#FF0000"/><rect x="1125" y="253" width="1" height="78" fill="#000"/><rect x="1120" y="301" width="11" height="17" fill="#000"/><rect x="1121" y="302" width="9" height="15" fill="#00FF00"/><rect x="1141" y="229" width="1" height="94" fill="#000"/><rect x="1136" y="237" width="11" height="81" fill="#000"/><rect x="1137" y="238" width="9" height="79" fill="#FF0000"/><rect x="1157" y="230" width="1" height="10" fill="#000"/><rect x="1152" y="233" width="11" height="6" fill="#000"/><rect x="1153" y="234" width="9" height="4" fill="#FF0000"/><rect x="1173" y="216" width="1" height="24" fill="#000"/><rect x="1168" y="217" width="11" height="19" fill="#000"/><rect x="1169" y="218" width="9" height="17" fill="#FF0000"/><rect x="1189" y="200" width="1" height="23" fill="#000"/><rect x="1184" y="211" width="11" height="6" fill="#000"/><rect x="1185" y="212" width="9" height="4" fill="#FF0000"/><rect x="1205" y="148" width="1" height="77" fill="#000"/><rect x="1200" y="160" width="11" height="52" fill="#000"/><rect x="1201" y="161" width="9" height="50" fill="#FF0000"/><rect x="1221" y="117" width="1" height="76" fill="#000"/><rect x="1216" y="137" width="11" height="24" fill="#000"/><rect x="1217" y="138" width="9" height="22" fill="#FF0000"/><rect x="1237" y="89" width="1" height="55" fill="#000"/><rect x="1232" y="91" width="11" height="48" fill="#000"/><rect x="1233" y="92" width="9" height="46" fill="#FF0000"/><rect x="1253" y="90" width="1" height="7" fill="#000"/><rect x="1248" y="90" width="11" height="1" fill="#000"/><rect x="1269" y="89" width="1" height="25" fill="#000"/><rect x="1264" y="94" width="11" height="14" fill="#000"/><rect x="1265" y="95" width="9" height="12" fill="#00FF00"/><rect x="1285" y="97" width="1" height="25" fill="#000"/><rect x="1280" y="98" width="11" height="10" fill="#000"/><rect x="1281" y="99" width="9" height="8" fill="#FF0000"/><rect x="1301" y="94" width="1" height="35" fill="#000"/><rect x="1296" y="98" width="11" height="12" fill="#000"/><rect x="1297" y="99" width="9" height="10" fill="#00FF00"/><rect x="1317" y="76" width="1" height="41" fill="#000"/><rect x="1312" y="83" width="11" height="27" fill="#000"/><rect x="1313" y="84" width="9" height="25" fill="#FF0000"/><rect x="1333" y="62" width="1" height="30" fill="#000"/><rect x="1328" y="80" width="11" height="4" fill="#000"/><rect x="1329" y="81" width="9" height="2" fill="#FF0000"/></g>
<line x1="5" y1="732.5" x2="1612" y2="732.5" stroke="#000" stroke-width="1" stroke-dasharray="3 3" stroke-dashoffset="-1"/><line x1="5" y1="760.5" x2="1612" y2="760.5" stroke="#000" stroke-width="1" stroke-dasharray="3 3" stroke-dashoffset="-1"/><line x1="5" y1="793.5" x2="1612" y2="793.5" stroke="#000" stroke-width="1" stroke-dasharray="3 3" stroke-dashoffset="-1"/>
</svg>
<div class="t h" style="left:20px;top:27px;"><span style="letter-spacing:0.55px">UKOil-,H4</span><span style="letter-spacing:0px;margin-left:0.5px">&nbsp;&nbsp;88.891 89.185 88.755 88.926</span></div><div class="t h" style="left:9px;top:612px;letter-spacing:0.24px">MACD(12,26,9) 1.0700 0.9822</div><div class="t h" style="left:9px;top:717px;letter-spacing:0.26px">RSI(14) 77.4844</div>
<svg class="l" width="1655" height="830" viewBox="0 0 1655 830" shape-rendering="crispEdges">
<rect x="5" y="80" width="1607" height="1" fill="#000"/><rect x="5" y="27" width="1607" height="2" fill="#FF0000"/><rect x="4" y="25" width="6" height="6" fill="#FF0000"/><rect x="6" y="27" width="2" height="2" fill="#fff"/><rect x="1606" y="25" width="6" height="6" fill="#FF0000"/><rect x="1608" y="27" width="2" height="2" fill="#fff"/><rect x="5" y="52" width="1607" height="2" fill="#FF0000"/><rect x="4" y="50" width="6" height="6" fill="#FF0000"/><rect x="6" y="52" width="2" height="2" fill="#fff"/><rect x="1606" y="50" width="6" height="6" fill="#FF0000"/><rect x="1608" y="52" width="2" height="2" fill="#fff"/><rect x="5" y="92" width="1607" height="2" fill="#FF8C00"/><rect x="4" y="90" width="6" height="6" fill="#FF8C00"/><rect x="6" y="92" width="2" height="2" fill="#fff"/><rect x="1606" y="90" width="6" height="6" fill="#FF8C00"/><rect x="1608" y="92" width="2" height="2" fill="#fff"/><rect x="5" y="117" width="1607" height="2" fill="#0000FF"/><rect x="4" y="115" width="6" height="6" fill="#0000FF"/><rect x="6" y="117" width="2" height="2" fill="#fff"/><rect x="1606" y="115" width="6" height="6" fill="#0000FF"/><rect x="1608" y="117" width="2" height="2" fill="#fff"/><rect x="5" y="145" width="1607" height="2" fill="#0000FF"/><rect x="4" y="143" width="6" height="6" fill="#0000FF"/><rect x="6" y="145" width="2" height="2" fill="#fff"/><rect x="1606" y="143" width="6" height="6" fill="#0000FF"/><rect x="1608" y="145" width="2" height="2" fill="#fff"/>
<rect x="1365" y="24" width="9" height="1" fill="#000"/><rect x="1366" y="25" width="7" height="1" fill="#000"/><rect x="1367" y="26" width="5" height="1" fill="#000"/><rect x="1368" y="27" width="3" height="1" fill="#000"/><rect x="1369" y="28" width="1" height="1" fill="#000"/><rect x="8" y="30" width="7" height="1" fill="#000"/><rect x="9" y="31" width="5" height="1" fill="#000"/><rect x="10" y="32" width="3" height="1" fill="#000"/><rect x="11" y="33" width="1" height="1" fill="#000"/>
<clipPath id="cp"><rect x="5" y="608" width="1607" height="199"/></clipPath>
<g clip-path="url(#cp)"><polyline points="-10.5,668.4 5.5,670.0 21.5,672.2 37.5,675.0 53.5,678.3 69.5,681.3 85.5,683.0 101.5,686.3 117.5,690.3 133.5,693.3 149.5,695.8 165.5,697.2 181.5,698.3 197.5,699.5 213.5,700.7 229.5,700.8 245.5,700.8 261.5,700.8 277.5,699.5 293.5,698.0 309.5,696.2 325.5,694.2 341.5,691.2 357.5,688.2 373.5,685.2 389.5,682.2 405.5,679.2 421.5,676.2 437.5,675.5 453.5,674.0 469.5,673.8 485.5,674.2 501.5,675.8 517.5,676.2 533.5,678.2 549.5,679.2 565.5,681.2 581.5,683.5 597.5,684.2 613.5,686.5 629.5,688.7 645.5,689.7 661.5,691.7 677.5,691.7 693.5,691.7 709.5,691.7 725.5,691.7 741.5,690.2 757.5,688.2 773.5,685.5 789.5,683.5 805.5,679.2 821.5,676.2 837.5,673.2 853.5,670.2 869.5,666.7 885.5,665.2 901.5,664.7 917.5,662.5 933.5,661.5 949.5,661.0 965.5,660.5 981.5,659.0 997.5,658.0 1013.5,657.2 1029.5,656.0 1045.5,655.2 1061.5,654.0 1077.5,653.0 1093.5,652.7 1109.5,652.0 1125.5,651.7 1141.5,651.2 1157.5,650.2 1173.5,648.2 1189.5,646.2 1205.5,644.2 1221.5,641.2 1237.5,637.0 1253.5,634.2 1269.5,630.0 1285.5,626.2 1301.5,623.2 1317.5,620.2 1333.5,619.0" fill="none" stroke="#FF0000" stroke-width="2" stroke-linejoin="round"/>
<polyline points="-10.5,770.7 5.5,770.7 21.5,770.7 37.5,771.8 53.5,771.8 69.5,767.0 85.5,769.8 101.5,779.8 117.5,778.3 133.5,776.5 149.5,770.3 165.5,769.6 181.5,767.0 197.5,769.8 213.5,769.8 229.5,767.0 245.5,767.0 261.5,772.0 277.5,763.5 293.5,759.5 309.5,758.7 325.5,753.0 341.5,752.7 357.5,751.7 373.5,757.2 389.5,762.5 405.5,763.2 421.5,764.0 437.5,767.0 453.5,767.0 469.5,766.0 485.5,766.0 501.5,767.0 517.5,764.5 533.5,769.7 549.5,774.7 565.5,770.5 581.5,772.7 597.5,772.7 613.5,772.7 629.5,774.7 645.5,767.0 661.5,768.0 677.5,766.7 693.5,767.0 709.5,762.5 725.5,756.7 741.5,753.0 757.5,756.7 773.5,752.0 789.5,752.0 805.5,754.7 821.5,752.0 837.5,756.7 853.5,754.7 869.5,756.7 885.5,756.7 901.5,756.7 917.5,754.2 933.5,750.5 949.5,755.2 965.5,749.0 981.5,751.7 997.5,750.7 1013.5,750.7 1029.5,754.7 1045.5,752.0 1061.5,752.7 1077.5,752.7 1093.5,750.0 1109.5,747.0 1125.5,750.0 1141.5,741.2 1157.5,740.7 1173.5,739.5 1189.5,738.7 1205.5,735.2 1221.5,733.5 1237.5,730.0 1253.5,729.5 1269.5,734.7 1285.5,734.7 1301.5,736.7 1317.5,735.0 1333.5,734.7" fill="none" stroke="#1E90FF" stroke-width="2" stroke-linejoin="round"/></g>
</svg>
<svg class="l" width="1655" height="830" viewBox="0 0 1655 830">
<line x1="1247" y1="298.5" x2="1378" y2="220" stroke="#E8111A" stroke-width="3.2"/>
<polygon points="1371.5,213.6 1391.3,211.8 1380.8,228.5" fill="#E8111A"/>
</svg>
<div class="t" style="left:1618px;top:37px;">89.480</div><div class="t" style="left:1618px;top:70px;">89.010</div><div class="t" style="left:1618px;top:103px;">88.550</div><div class="t" style="left:1618px;top:136px;">88.090</div><div class="t" style="left:1618px;top:169px;">87.630</div><div class="t" style="left:1618px;top:202px;">87.170</div><div class="t" style="left:1618px;top:235px;">86.700</div><div class="t" style="left:1618px;top:268px;">86.240</div><div class="t" style="left:1618px;top:301px;">85.780</div><div class="t" style="left:1618px;top:334px;">85.320</div><div class="t" style="left:1618px;top:367px;">84.860</div><div class="t" style="left:1618px;top:400px;">84.390</div><div class="t" style="left:1618px;top:433px;">83.930</div><div class="t" style="left:1618px;top:466px;">83.470</div><div class="t" style="left:1618px;top:499px;">83.010</div><div class="t" style="left:1618px;top:532px;">82.550</div><div class="t" style="left:1618px;top:565px;">82.080</div><div class="t" style="left:1618px;top:598px;">81.620</div><div class="t" style="left:1616px;top:610px;">1.1579</div><div class="t" style="left:1616px;top:665px;">0.00</div><div class="t" style="left:1616px;top:699px;">-0.7601</div><div class="t" style="left:1616px;top:716px;">100</div><div class="t" style="left:1615px;top:728px;">80</div><div class="t" style="left:1615px;top:756px;">50</div><div class="t" style="left:1615px;top:789px;">15</div><div class="t" style="left:1616px;top:796px;">0</div><div class="t d" style="left:4px;top:812px;">15 Aug 2023</div><div class="t d" style="left:68px;top:812px;">16 Aug 08:00</div><div class="t d" style="left:132px;top:812px;">17 Aug 00:00</div><div class="t d" style="left:196px;top:812px;">17 Aug 16:00</div><div class="t d" style="left:260px;top:812px;">18 Aug 08:00</div><div class="t d" style="left:324px;top:812px;">21 Aug 00:00</div><div class="t d" style="left:388px;top:812px;">21 Aug 16:00</div><div class="t d" style="left:452px;top:812px;">22 Aug 08:00</div><div class="t d" style="left:516px;top:812px;">23 Aug 00:00</div><div class="t d" style="left:580px;top:812px;">23 Aug 16:00</div><div class="t d" style="left:644px;top:812px;">24 Aug 08:00</div><div class="t d" style="left:708px;top:812px;">25 Aug 00:00</div><div class="t d" style="left:772px;top:812px;">25 Aug 16:00</div><div class="t d" style="left:836px;top:812px;">28 Aug 08:00</div><div class="t d" style="left:900px;top:812px;">29 Aug 00:00</div><div class="t d" style="left:964px;top:812px;">29 Aug 16:00</div><div class="t d" style="left:1028px;top:812px;">30 Aug 12:00</div><div class="t d" style="left:1092px;top:812px;">31 Aug 04:00</div><div class="t d" style="left:1156px;top:812px;">31 Aug 20:00</div><div class="t d" style="left:1220px;top:812px;">1 Sep 12:00</div><div class="t d" style="left:1284px;top:812px;">4 Sep 04:00</div>
<div class="pl" style="top:22px;background:#FF0000">89.654</div><div class="pl" style="top:47px;background:#FF0000">89.308</div><div class="pl" style="top:75px;background:#000">88.926</div><div class="pl" style="top:87px;background:#FF8C00">88.744</div><div class="pl" style="top:112px;background:#0000FF">88.395</div><div class="pl" style="top:140px;background:#0000FF">88.006</div>
</body></html>
